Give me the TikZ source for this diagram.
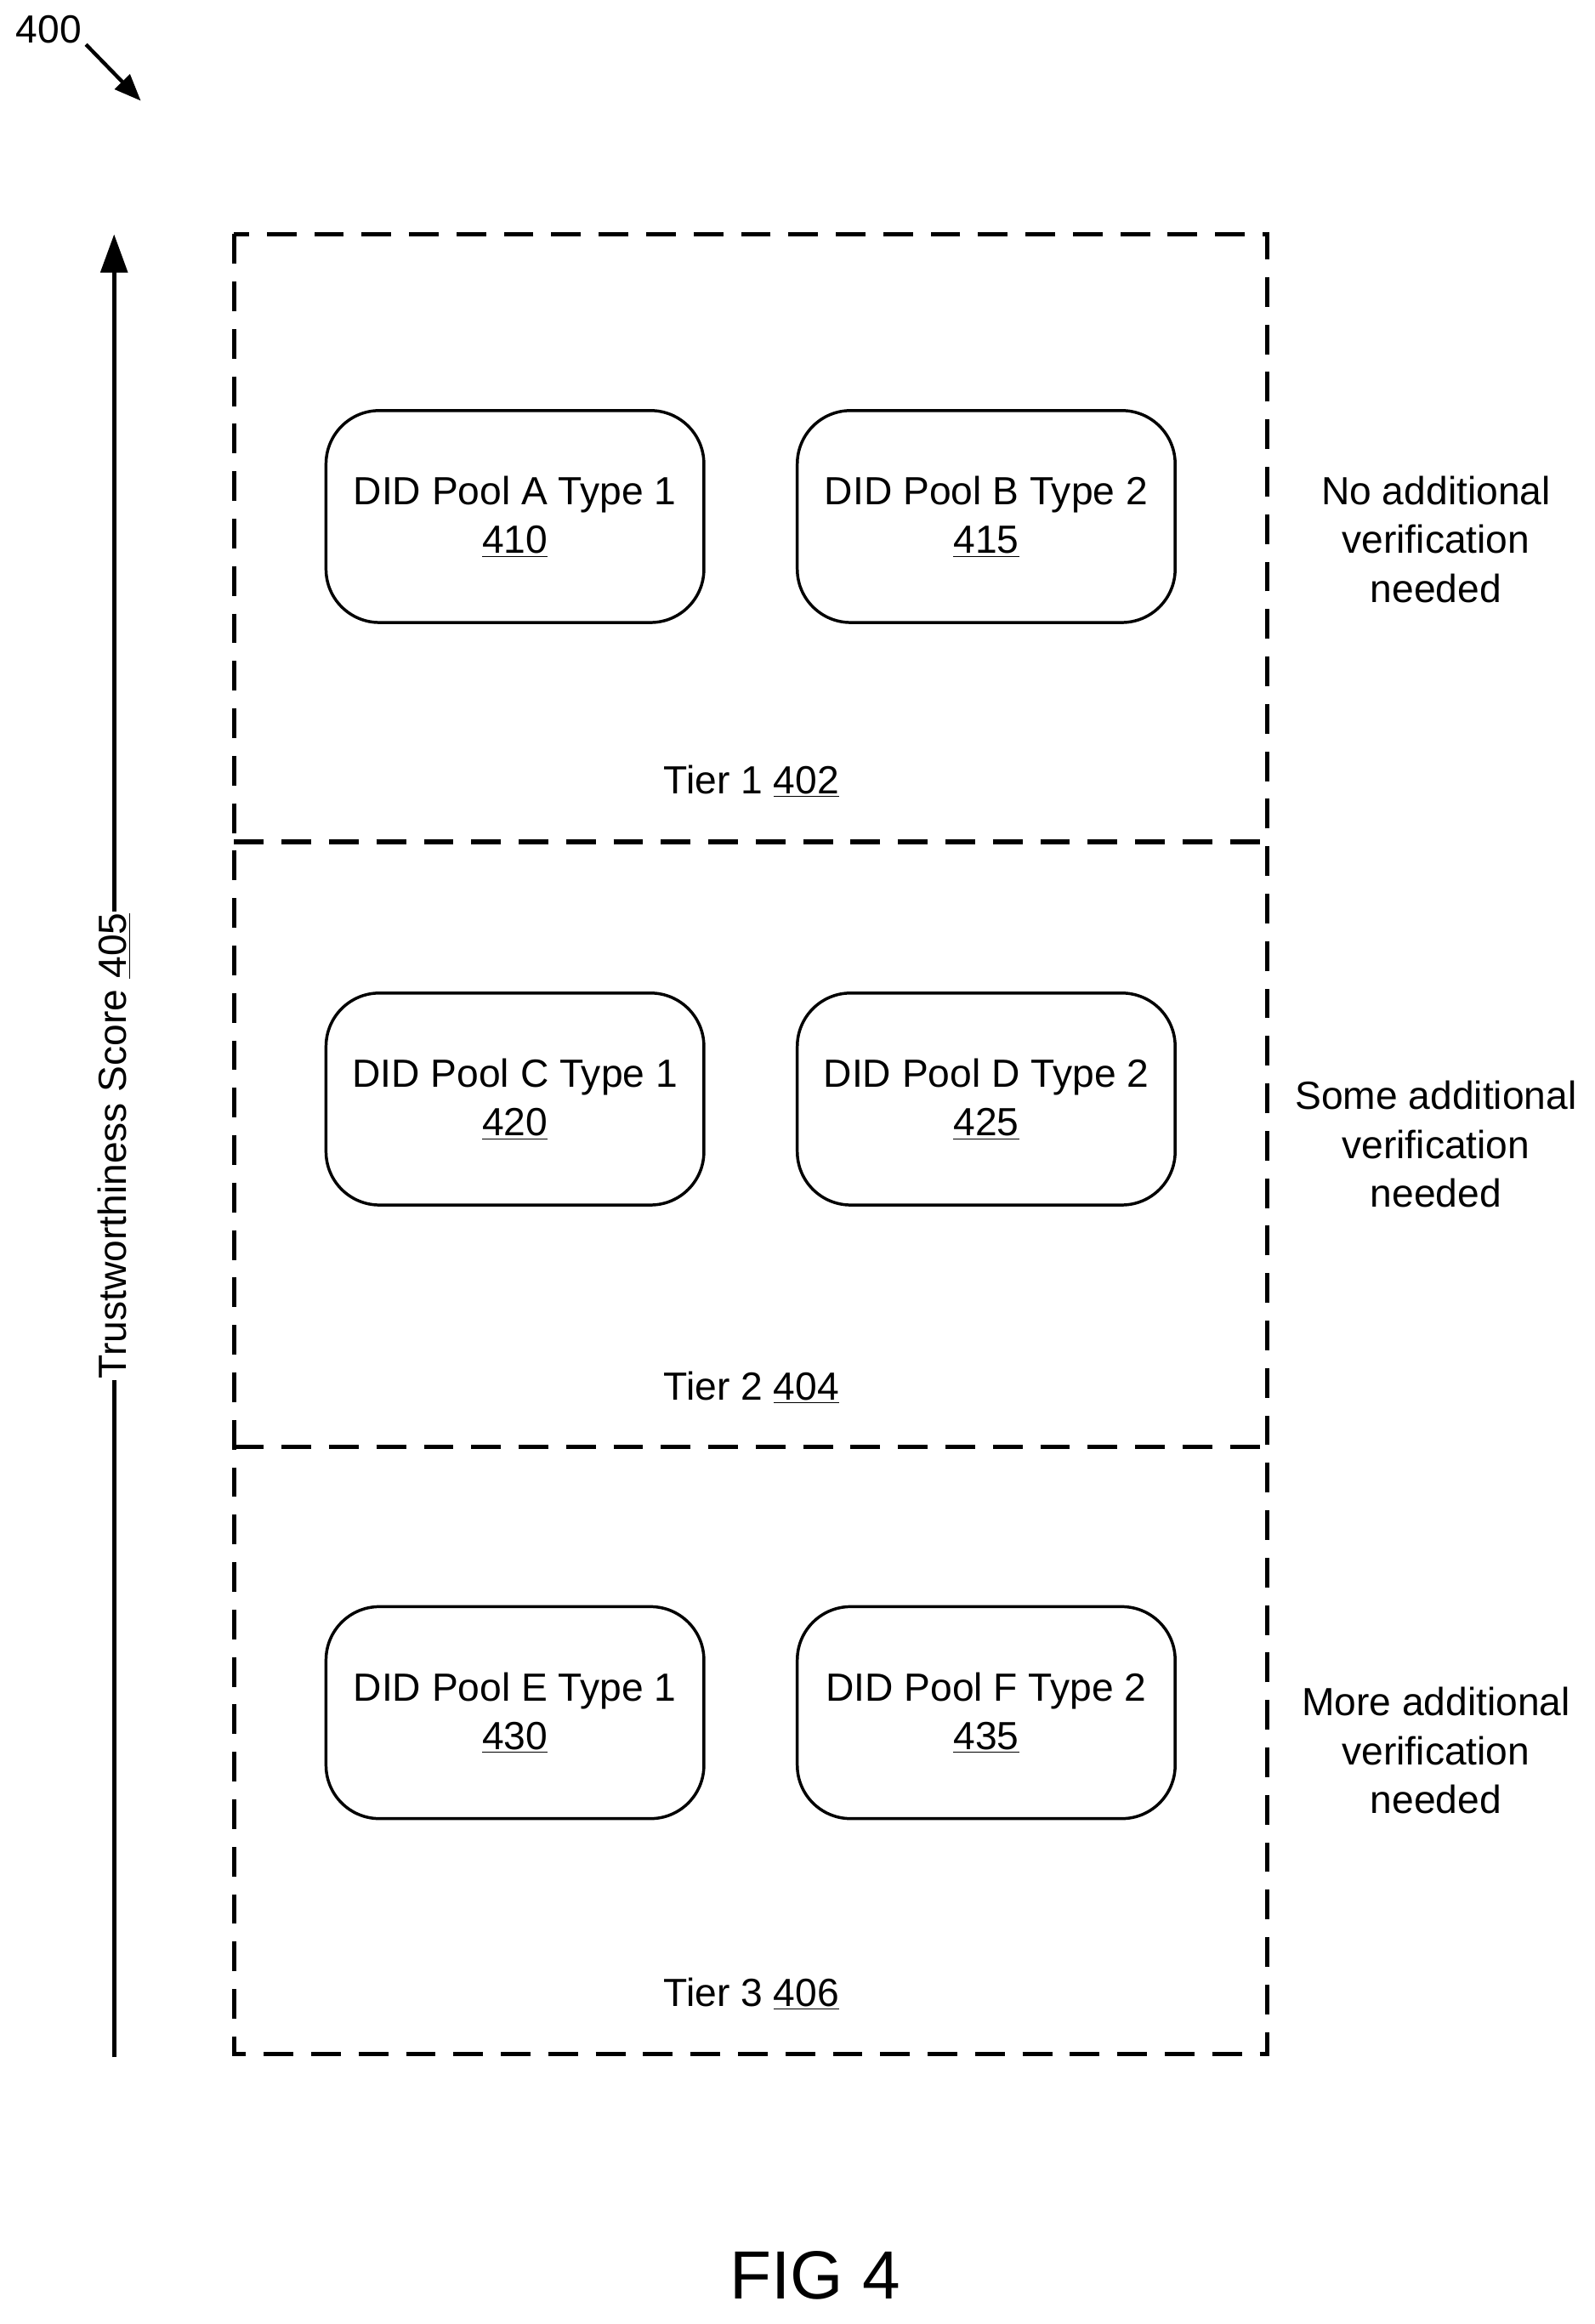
\documentclass[tikz,border=0pt]{standalone}
\usepackage{fontspec}
\setmainfont{Liberation Sans}
\usetikzlibrary{arrows.meta}
\begin{document}
\begin{tikzpicture}[x=1pt,y=-1pt,
  tier/.style={draw,line width=3pt,dash pattern=on 20pt off 12pt},
  pool/.style={draw,line width=2pt,rounded corners=36pt,minimum width=255pt,minimum height=143pt,align=center,font=\fontsize{26.5}{33}\selectfont},
  lbl/.style={font=\fontsize{26.5}{33}\selectfont,align=center}]
\useasboundingbox (0,0) rectangle (1076,1568);
\draw[tier] (158,158) rectangle (855,1386);
\draw[tier] (158,568) -- (855,568);
\draw[tier] (158,976) -- (855,976);
\node[pool] (a) at (347.5,348.5) {DID Pool A Type 1\\\underline{410}};
\node[pool] (b) at (665.5,348.5) {DID Pool B Type 2\\\underline{415}};
\node[pool] (c) at (347.5,741.5) {DID Pool C Type 1\\\underline{420}};
\node[pool] (d) at (665.5,741.5) {DID Pool D Type 2\\\underline{425}};
\node[pool] (e) at (347.5,1155.5) {DID Pool E Type 1\\\underline{430}};
\node[pool] (f) at (665.5,1155.5) {DID Pool F Type 2\\\underline{435}};
\node[lbl] (t1) at (507,527) {Tier 1 \underline{402}};
\node[lbl] (t2) at (507,936) {Tier 2 \underline{404}};
\node[lbl] (t3) at (507,1345) {Tier 3 \underline{406}};
\node[lbl] (r1) at (969,364) {No additional\\verification\\needed};
\node[lbl] (r2) at (969,772) {Some additional\\verification\\needed};
\node[lbl] (r3) at (969,1181) {More additional\\verification\\needed};
\coordinate (s0) at (77,1388);
\coordinate (s1) at (77,158);
\draw[line width=3pt,-{Triangle[length=26pt,width=18pt]}] (s0) -- (s1);
\node[lbl,rotate=90,fill=white,inner sep=1pt] (ts) at (77,773) {Trustworthiness Score \underline{405}};
\node[lbl] (n400) at (33,20) {400};
\coordinate (p0) at (58,30);
\coordinate (p1) at (95,68);
\draw[line width=2.5pt,-{Triangle[length=18pt,width=14pt]}] (p0) -- (p1);
\node[font=\fontsize{46}{50}\selectfont] (fig) at (550,1535) {FIG 4};
\end{tikzpicture}
\end{document}
